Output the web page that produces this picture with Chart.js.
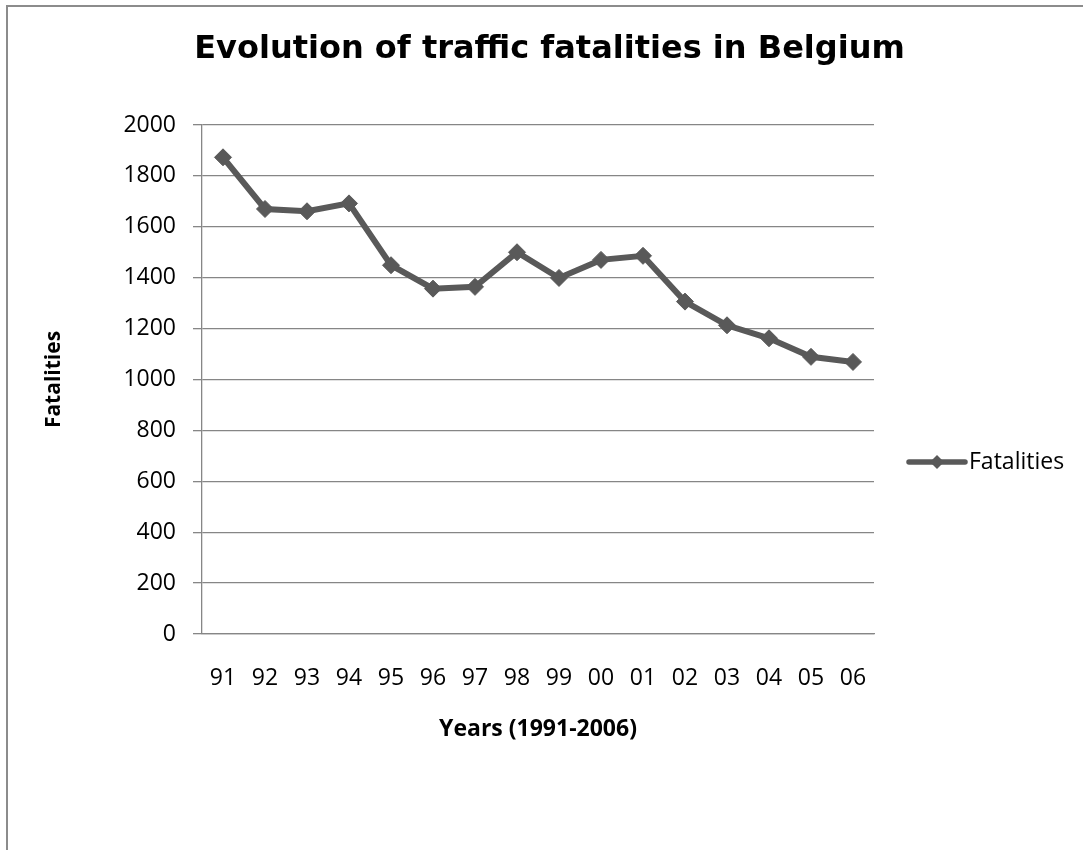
<!DOCTYPE html>
<html>
<head>
<meta charset="utf-8">
<title>Evolution of traffic fatalities in Belgium</title>
<script src="https://cdn.jsdelivr.net/npm/chart.js@4/dist/chart.umd.min.js"></script>
<style>
  html, body { margin: 0; padding: 0; background: #fff; }
  canvas { display: block; }
</style>
</head>
<body>
<canvas id="chart" width="1083" height="850"></canvas>
<script>
// Years on the x axis (1991-2006, two-digit labels)
const years = ['91', '92', '93', '94', '95', '96', '97', '98', '99', '00', '01', '02', '03', '04', '05', '06'];
// Road traffic fatalities per year
const fatalities = [1873, 1670, 1661, 1692, 1449, 1357, 1364, 1500, 1399, 1470, 1486, 1306, 1213, 1162, 1089, 1069];
// Value axis range and step
const yMin = 0;
const yMax = 2000;
const yStep = 200;

const GRID = '#868686';
const SERIES = '#595959';

// Frame around the whole chart
const framePlugin = {
  id: 'frame',
  beforeDraw(chart) {
    const ctx = chart.ctx;
    ctx.save();
    ctx.fillStyle = '#fff';
    ctx.fillRect(0, 0, chart.width, chart.height);
    ctx.strokeStyle = '#8c8c8c';
    ctx.lineWidth = 2;
    ctx.beginPath();
    ctx.moveTo(7, chart.height + 2);
    ctx.lineTo(7, 6);
    ctx.lineTo(chart.width + 2, 6);
    ctx.stroke();
    ctx.restore();
  }
};

// Legend entry on the right: line with a diamond, followed by the series name
const sideLegend = {
  id: 'sideLegend',
  afterDraw(chart) {
    const ds = chart.data.datasets[0];
    const area = chart.chartArea;
    const ctx = chart.ctx;
    const x0 = area.right + 35;
    const len = 56;
    const y = area.bottom - 172;
    ctx.save();
    ctx.strokeStyle = ds.borderColor;
    ctx.lineWidth = 5.5;
    ctx.lineCap = 'round';
    ctx.beginPath();
    ctx.moveTo(x0, y);
    ctx.lineTo(x0 + len, y);
    ctx.stroke();
    const cx = x0 + len / 2, r = 7;
    ctx.fillStyle = ds.pointBackgroundColor;
    ctx.beginPath();
    ctx.moveTo(cx, y - r);
    ctx.lineTo(cx + r, y);
    ctx.lineTo(cx, y + r);
    ctx.lineTo(cx - r, y);
    ctx.closePath();
    ctx.fill();
    ctx.fillStyle = '#000';
    ctx.font = '23px "Open Sans"';
    ctx.textAlign = 'left';
    ctx.textBaseline = 'middle';
    ctx.fillText(ds.label, x0 + len + 4, y);
    ctx.restore();
  }
};

new Chart(document.getElementById('chart'), {
  type: 'line',
  data: {
    labels: years,
    datasets: [{
      label: 'Fatalities',
      data: fatalities,
      borderColor: SERIES,
      borderWidth: 6,
      tension: 0,
      pointStyle: 'rectRot',
      pointRadius: 8.5,
      pointHoverRadius: 8.5,
      pointBackgroundColor: SERIES,
      pointBorderColor: SERIES,
      pointBorderWidth: 1
    }]
  },
  options: {
    responsive: false,
    animation: false,
    layout: { padding: { left: 16, right: 0, top: 0, bottom: 0 } },
    plugins: {
      legend: { display: false },
      tooltip: { enabled: false },
      title: {
        display: true,
        text: 'Evolution of traffic fatalities in Belgium',
        color: '#000',
        font: { family: '"DejaVu Sans"', weight: 'bold', size: 32, lineHeight: 1.2 },
        padding: { top: 30.3, bottom: 56.3 }
      }
    },
    scales: {
      x: {
        offset: true,
        grid: { display: false },
        border: { display: true, color: GRID, width: 1.3 },
        ticks: { color: '#000', font: { family: '"Open Sans"', size: 23 }, padding: 23, maxRotation: 0 },
        title: {
          display: true,
          text: 'Years (1991-2006)',
          color: '#000',
          font: { family: '"Open Sans"', weight: 'bold', size: 23, lineHeight: 1.2 },
          padding: { top: 0, bottom: 107 }
        },
        afterFit(scale) { scale.height = 216; }
      },
      y: {
        min: yMin,
        max: yMax,
        grid: { color: GRID, lineWidth: 1.3, tickLength: 9, drawTicks: true },
        border: { display: true, color: GRID, width: 1.3 },
        ticks: {
          stepSize: yStep,
          color: '#000',
          font: { family: '"Open Sans"', size: 23 },
          padding: 17,
          callback: (v) => String(v)
        },
        title: {
          display: true,
          text: 'Fatalities',
          color: '#000',
          font: { family: '"Open Sans"', weight: 'bold', size: 21, lineHeight: 1.2 },
          padding: { top: 25.4, bottom: 0 }
        },
        afterFit(scale) { scale.width = 186; }
      },
      // empty right-hand axis that keeps room for the legend
      legendSpace: {
        type: 'linear',
        position: 'right',
        grid: { display: false },
        border: { display: false },
        ticks: { display: false },
        afterFit(scale) { scale.width = 209; }
      }
    }
  },
  plugins: [framePlugin, sideLegend]
});
</script>
</body>
</html>
